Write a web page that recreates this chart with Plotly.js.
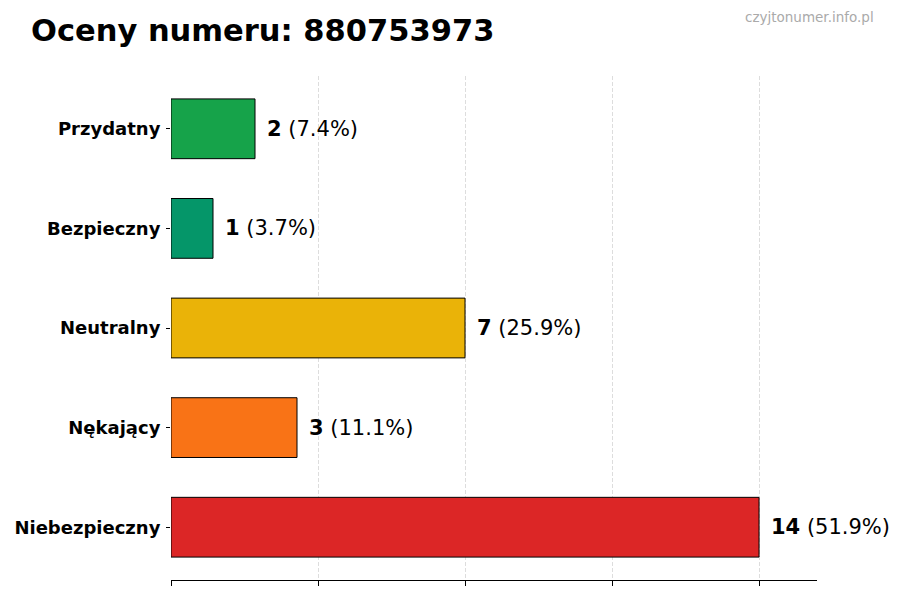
<!DOCTYPE html>
<html lang="pl">
<head>
    <meta charset="UTF-8">
    <title>Oceny numeru</title>
    <script src="https://cdn.plot.ly/plotly-3.0.1.min.js"></script>
    <style>
        html, body { margin: 0; padding: 0; background: #fff; }
        #chart { width: 900px; height: 600px; }
    </style>
</head>
<body>
<div id="chart"></div>

<script>
    // dane (od dołu do góry)
    let categories = ['Niebezpieczny', 'Nękający', 'Neutralny', 'Bezpieczny', 'Przydatny'];
    let counts = [14, 3, 7, 1, 2];
    let percents = ['51.9%', '11.1%', '25.9%', '3.7%', '7.4%'];
    let colors = ['#dc2626', '#f97316', '#eab308', '#059669', '#16a34a'];

    let font = 'DejaVu Sans, Verdana, sans-serif';

    let trace = {
        type: 'bar',
        orientation: 'h',
        x: counts,
        y: categories,
        width: 0.6,
        marker: {
            color: colors,
            line: {color: '#000', width: 1}
        },
        hoverinfo: 'none'
    };

    let annotations = [];
    for (let i = 0; i < categories.length; i++) {
        annotations.push({
            x: counts[i],
            y: categories[i],
            xref: 'x',
            yref: 'y',
            text: '<b>' + counts[i] + '</b> (' + percents[i] + ')',
            showarrow: false,
            xanchor: 'left',
            yanchor: 'middle',
            xshift: 10,
            font: {family: font, size: 21, color: '#000'}
        });
    }

    annotations.push({
        xref: 'paper',
        yref: 'paper',
        x: 1 + 59 / 646,
        y: 1 + 59 / 504,
        xanchor: 'right',
        yanchor: 'middle',
        text: 'czyjtonumer.info.pl',
        showarrow: false,
        font: {family: font, size: 13.5, color: '#aaaaaa'}
    });

    let layout = {
        width: 900,
        height: 600,
        margin: {l: 171, r: 83, t: 76, b: 20},
        paper_bgcolor: '#fff',
        plot_bgcolor: '#fff',
        showlegend: false,
        font: {family: font, color: '#000'},
        title: {
            text: '<b>Oceny numeru: 880753973</b>',
            font: {family: font, size: 30.5, color: '#000'},
            xref: 'container',
            yref: 'container',
            x: 31 / 900,
            xanchor: 'left',
            y: 1 - 30 / 600,
            yanchor: 'middle'
        },
        xaxis: {
            range: [0, 15.38],
            tick0: 0,
            dtick: 3.5,
            showticklabels: false,
            ticks: 'outside',
            ticklen: 5,
            tickcolor: '#000',
            showline: true,
            linecolor: '#000',
            linewidth: 1,
            showgrid: true,
            gridcolor: '#dddddd',
            griddash: '4px,2px',
            gridwidth: 1,
            zeroline: false,
            fixedrange: true
        },
        yaxis: {
            type: 'category',
            range: [-0.53, 4.53],
            ticks: 'outside',
            ticklen: 4,
            tickcolor: '#000',
            showline: false,
            showgrid: false,
            zeroline: false,
            tickfont: {family: font, size: 18, color: '#000', weight: 'bold'},
            ticklabelstandoff: 2,
            fixedrange: true
        },
        annotations: annotations
    };

    Plotly.newPlot('chart', [trace], layout, {displayModeBar: false, staticPlot: true});
</script>
</body>
</html>
